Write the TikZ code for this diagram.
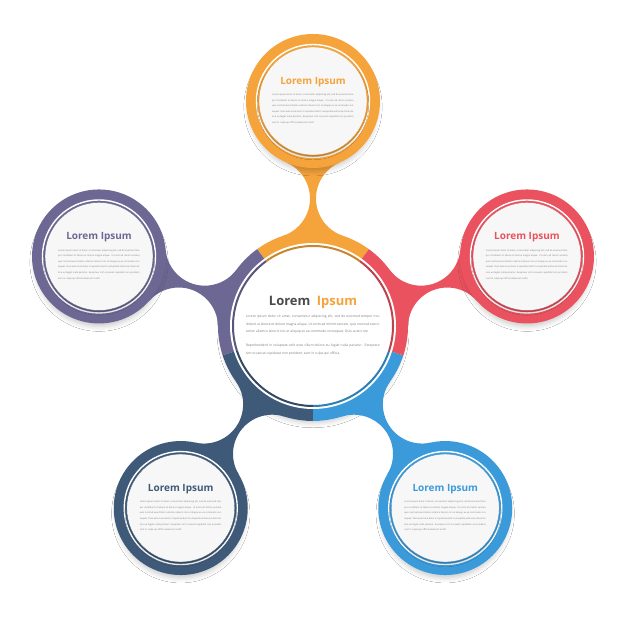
\documentclass[tikz,border=0pt]{standalone}
\usepackage{fontspec}
\setmainfont{Open Sans}
\usetikzlibrary{shadows.blur}
\definecolor{cOr}{HTML}{F5A33B}
\definecolor{cRe}{HTML}{E9525E}
\definecolor{cPu}{HTML}{6D6893}
\definecolor{cDb}{HTML}{3F5A78}
\definecolor{cBl}{HTML}{3B9BDA}
\definecolor{cTi}{HTML}{4A4A4A}
\definecolor{cTx}{HTML}{7A7A7A}
\definecolor{cIn}{HTML}{F7F7F7}
\tikzset{
  softshadow/.style={blur shadow={shadow xshift=0pt,shadow yshift=-6pt,shadow scale=0.96,shadow blur radius=5pt,shadow opacity=20}},
  innershadow/.style={blur shadow={shadow xshift=0pt,shadow yshift=-3pt,shadow scale=0.98,shadow blur radius=3pt,shadow opacity=30}},
  sattitle/.style={font=\fontsize{10}{12}\selectfont\bfseries},
  satbody/.style={font=\fontsize{2.3}{5.6}\selectfont, text=cTx, text width=82pt, align=justify, inner sep=0pt},
  ctitle/.style={font=\fontsize{13}{15}\selectfont\bfseries, text=cTi},
  cbody/.style={font=\fontsize{3.3}{7.6}\selectfont, text=cTx, text width=134pt, align=justify, inner sep=0pt}
}
\newcommand{\satbodytext}{\parfillskip=0pt Lorem ipsum dolor sit amet, consectetur adipiscing elit, sed do eiusmod tempor incididunt ut labore et dolore magna aliqua. Ut enim ad minim veniam, quis nostrud exercitation ullamco laboris nisi ut aliquip ex ea commodo consequat. Duis aute irure dolor in reprehenderit in voluptate velit esse cillum dolore eu fugiat nulla pariatur. Excepteur sint occaecat cupidatat non proident, sunt in culpa qui officia deserunt mollit.}
\begin{document}
\begin{tikzpicture}[x=1pt,y=1pt]
\useasboundingbox (0,0) rectangle (626,626);
\fill[white] (0,0) rectangle (626,626);
\coordinate (C) at (313,300);

% shadow of the central ring
\fill[white, softshadow] (C) circle[radius=95];

% necks
\foreach \a/\c in {90/cOr,162/cPu,234/cDb,306/cBl,18/cRe}{
  \fill[\c, shift={(C)}, rotate=\a] (90.17,29.91) arc[start angle=198.35,end angle=336.56,radius=39.3]
     -- (163.53,-26.65) arc[start angle=23.44,end angle=161.65,radius=39.3] -- cycle;
}

% central ring
\begin{scope}[shift={(C)}]
  \foreach \s/\e/\c in {54/126/cOr,126/198/cPu,198/270/cDb,270/342/cBl,-18/54/cRe}{
    \fill[\c] (0,0) -- (\s:95) arc[start angle=\s,end angle=\e,radius=95] -- cycle;
  }
  \fill[white] (0,0) circle[radius=83];
  \foreach \s/\e/\c in {54/126/cOr,126/198/cPu,198/270/cDb,270/342/cBl,-18/54/cRe}{
    \draw[\c!82!black, line width=2pt] (\s:80) arc[start angle=\s,end angle=\e,radius=80];
  }
  \node[ctitle] (ct) at (0,24) {Lorem\hspace{3pt} \textcolor{cOr}{Ipsum}};
  \node[cbody, anchor=north] (cb) at (0,11) {Lorem ipsum dolor sit amet, consectetur adipiscing elit, sed do eiusmod tempor incididunt ut labore et dolore magna aliqua. Ut enim ad minim veniam, quis nostrud exercitation ullamco laboris nisi ut aliquip ex ea commodo consequat. Duis aute irure\par\vspace{6.4pt}Reprehenderit in voluptate velit esse cillum dolore eu fugiat nulla pariatur. Excepteur sint occaecat cupidatat non proident, sunt in culpa qui officia.};
\end{scope}

% satellites
\foreach \a/\c/\n in {90/cOr/top,162/cPu/left,234/cDb/bleft,306/cBl/bright,18/cRe/right}{
  \begin{scope}[shift={(C)}]
    \begin{scope}[shift={(\a:225)}]
      \fill[\c, softshadow] (0,0) circle[radius=67];
      \draw[white, line width=1.4pt] (0,0) circle[radius=56.5];
      \fill[cIn, innershadow] (0,0) circle[radius=54];
      \draw[\c!90!black, line width=0.3pt] (0,0) circle[radius=54];
      \node[sattitle, text=\c] (t\n) at (0,19) {Lorem Ipsum};
      \node[satbody] (b\n) at (0,-8) {\satbodytext};
    \end{scope}
  \end{scope}
}
\end{tikzpicture}
\end{document}
